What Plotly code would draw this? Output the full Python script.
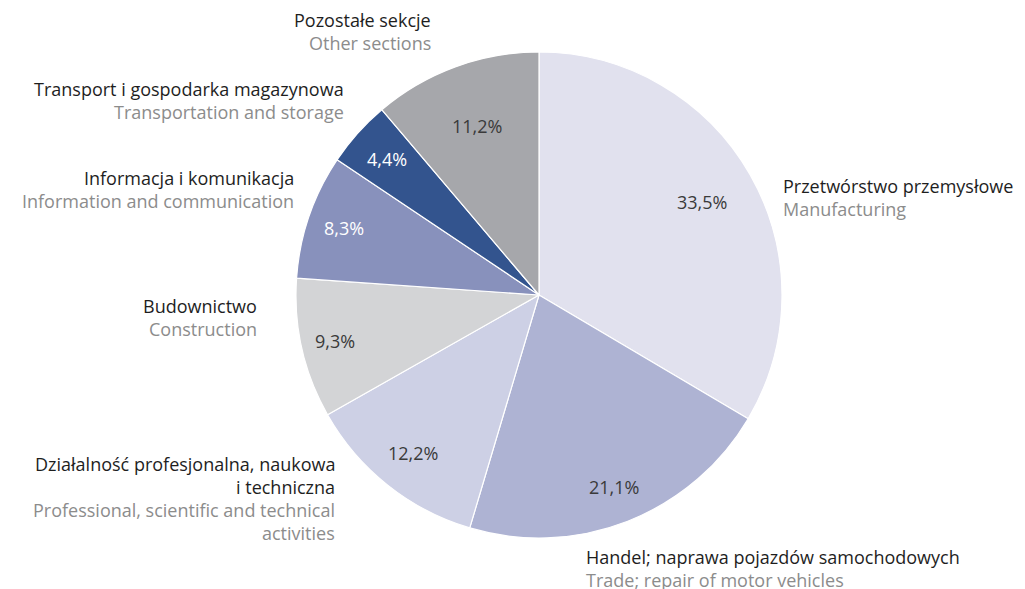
import math

import plotly.graph_objects as go

# sections, clockwise from 12 o'clock
labels_pl = [
    "Przetwórstwo przemysłowe",
    "Handel; naprawa pojazdów samochodowych",
    "Działalność profesjonalna, naukowa<br>i techniczna",
    "Budownictwo",
    "Informacja i komunikacja",
    "Transport i gospodarka magazynowa",
    "Pozostałe sekcje",
]
labels_en = [
    "Manufacturing",
    "Trade; repair of motor vehicles",
    "Professional, scientific and technical<br>activities",
    "Construction",
    "Information and communication",
    "Transportation and storage",
    "Other sections",
]
shares = [33.5, 21.1, 12.2, 9.3, 8.3, 4.4, 11.2]

slice_colors = ["#e1e1ee", "#aeb3d3", "#cdd0e5", "#d3d4d6", "#8891bc", "#33548e", "#a6a7ab"]
text_colors = ["#3a3a3a", "#3a3a3a", "#3a3a3a", "#3a3a3a", "#ffffff", "#ffffff", "#3a3a3a"]
# how far out each percentage sits, as a fraction of the radius
text_radius = [0.77, 0.85, 0.83, 0.86, 0.85, 0.84, 0.74]

# page body adds an 8px margin, so the figure is drawn a bit smaller and offset
OFF = 8
W, H = 1025 - OFF, 589 - OFF
FONT = "Open Sans"

CX, CY, R = 539, 295, 243


def px(x, y):
    return (x - OFF) / W, 1 - (y - OFF) / H


fig = go.Figure()
x0, y0 = px(CX - R, CY + R)
x1, y1 = px(CX + R, CY - R)
fig.add_trace(
    go.Pie(
        values=shares,
        labels=[p.replace("<br>", " ") for p in labels_pl],
        textinfo="none",
        direction="clockwise",
        rotation=0,
        sort=False,
        marker={"colors": slice_colors, "line": {"color": "#ffffff", "width": 1.2}},
        domain={"x": [x0, x1], "y": [y0, y1]},
        showlegend=False,
        hoverinfo="label+percent",
    )
)

# percentages inside the slices
total = sum(shares)
cum = 0.0
for v, c, rf in zip(shares, text_colors, text_radius):
    ang = (cum + v / 2) / total * 2 * math.pi
    cum += v
    tx = CX + rf * R * math.sin(ang)
    ty = CY - rf * R * math.cos(ang)
    ax, ay = px(tx, ty)
    fig.add_annotation(
        x=ax, y=ay, xref="paper", yref="paper",
        text=f"{v:.1f}%".replace(".", ","),
        showarrow=False, xanchor="center", yanchor="middle",
        font={"family": FONT, "size": 18, "color": c},
    )

# label anchors in pixels: (x, y of first line, align)
label_pos = [
    (781, 186, "left"),
    (584, 557, "left"),
    (337, 464, "right"),
    (259, 306, "right"),
    (296, 178, "right"),
    (346, 89, "right"),
    (433, 20, "right"),
]
line_h = 23

for pl, en, (lx, ly, al) in zip(labels_pl, labels_en, label_pos):
    lines = [(t, "#1e1e1e") for t in pl.split("<br>")] + [(t, "#8c8c8c") for t in en.split("<br>")]
    for i, (t, c) in enumerate(lines):
        ax, ay = px(lx, ly + i * line_h)
        fig.add_annotation(
            x=ax, y=ay, xref="paper", yref="paper",
            text=t,
            showarrow=False,
            xanchor=al,
            yanchor="middle",
            font={"family": FONT, "size": 18, "color": c},
        )

fig.update_layout(
    width=W,
    height=H,
    margin={"l": 0, "r": 0, "t": 0, "b": 0},
    paper_bgcolor="#ffffff",
    plot_bgcolor="#ffffff",
)

fig.write_html("out.html")
